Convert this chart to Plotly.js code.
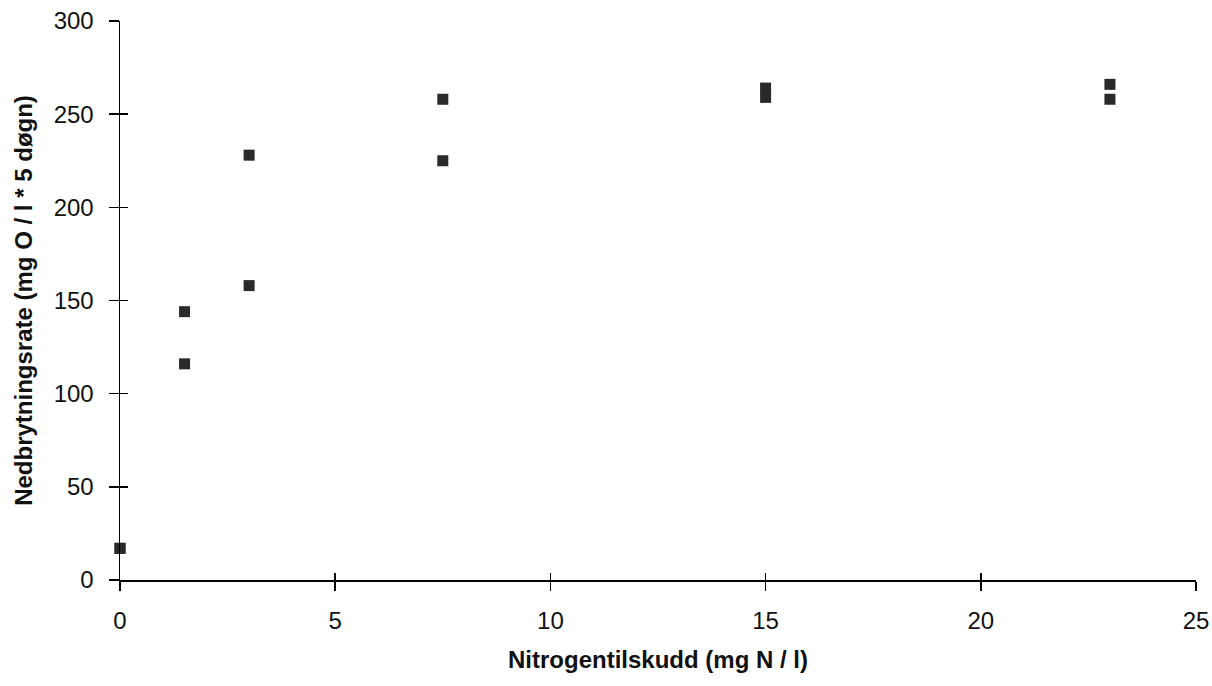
<!DOCTYPE html>
<html>
<head>
<meta charset="utf-8">
<script src="https://cdn.plot.ly/plotly-3.0.1.min.js"></script>
<style>html,body{margin:0;padding:0;background:#fff;}#chart{width:1212px;height:686px;}</style>
</head>
<body>
<div id="chart"></div>
<script>
const nitrogen = [0, 0, 1.5, 1.5, 3, 3, 7.5, 7.5, 15, 15, 23, 23];
const rate = [17, 17, 144, 116, 228, 158, 258, 225, 264, 259, 266, 258];
const xTicks = [0, 5, 10, 15, 20, 25];
const yTicks = [0, 50, 100, 150, 200, 250, 300];
const xTitle = 'Nitrogentilskudd (mg N / l)';
const yTitle = 'Nedbrytningsrate (mg O / l * 5 døgn)';

const fontFam = '"Liberation Sans", Arial, Helvetica, sans-serif';

const trace = {
  x: nitrogen,
  y: rate,
  type: 'scatter',
  mode: 'markers',
  cliponaxis: false,
  marker: {symbol: 'square', size: 11, color: '#2a2a2a', line: {width: 0}},
  hoverinfo: 'x+y',
  showlegend: false
};

// empty helper trace so the overlay axes (inner tick halves) are drawn
const helper = {
  x: [], y: [], type: 'scatter', mode: 'markers',
  xaxis: 'x2', yaxis: 'y2', showlegend: false, hoverinfo: 'skip'
};

const common = {
  showgrid: false,
  zeroline: false,
  showline: true,
  linecolor: '#000',
  linewidth: 1.5,
  tickcolor: '#000',
  tickwidth: 1.5,
  tickfont: {family: fontFam, size: 24, color: '#111'}
};

const layout = {
  width: 1212,
  height: 686,
  margin: {l: 120, r: 16, t: 21, b: 106},
  paper_bgcolor: '#fff',
  plot_bgcolor: '#fff',
  font: {family: fontFam, color: '#111'},
  xaxis: Object.assign({}, common, {
    range: [0, 25],
    tickmode: 'array',
    tickvals: xTicks,
    ticktext: xTicks.map(String),
    ticks: 'outside',
    ticklen: 9,
    ticklabelstandoff: 10,
    title: {text: '<b>' + xTitle + '</b>', font: {family: fontFam, size: 24, color: '#111'}, standoff: 18}
  }),
  yaxis: Object.assign({}, common, {
    range: [0, 300],
    tickmode: 'array',
    tickvals: yTicks,
    ticktext: yTicks.map(String),
    ticks: 'outside',
    ticklen: 10,
    ticklabelstandoff: 10,
    title: {text: '<b>' + yTitle + '</b>', font: {family: fontFam, size: 24, color: '#111'}, standoff: 14}
  }),
  xaxis2: Object.assign({}, common, {
    overlaying: 'x', anchor: 'y2', side: 'bottom',
    range: [0, 25], tickmode: 'array', tickvals: xTicks,
    ticks: 'inside', ticklen: 7, showticklabels: false, showline: false
  }),
  yaxis2: Object.assign({}, common, {
    overlaying: 'y', anchor: 'x2', side: 'left',
    range: [0, 300], tickmode: 'array', tickvals: yTicks,
    ticks: 'inside', ticklen: 8, showticklabels: false, showline: false
  })
};

Plotly.newPlot('chart', [helper, trace], layout, {displayModeBar: false, staticPlot: true});
</script>
</body>
</html>
